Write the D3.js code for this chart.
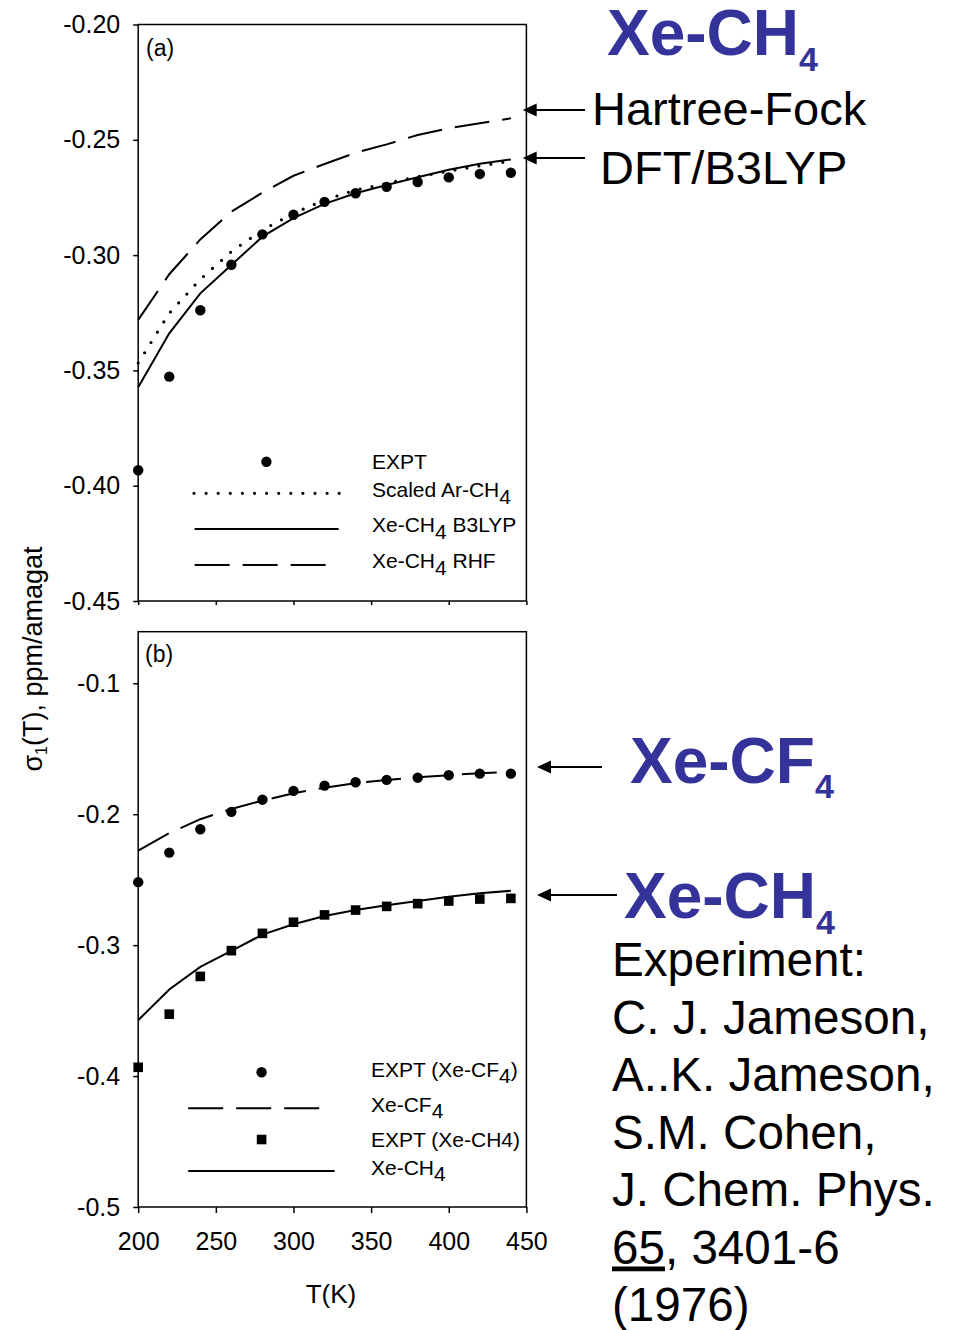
<!DOCTYPE html>
<html lang="en">
<head>
<meta charset="UTF-8">
<title>Xe-CH4 and Xe-CF4 second virial coefficient of shielding</title>
<script src="https://d3js.org/d3.v7.min.js"></script>
<style>
    body {
        margin: 0;
        background: white;
        font-family: "Liberation Sans", Arial, Helvetica, sans-serif;
    }

    svg {
        display: block;
    }
</style>
</head>
<body>
<svg id="vis"></svg>
<script>
    const width = 954;
    const height = 1330;

    // temperatures (K) for every series
    const temps = [200, 220, 240, 260, 280, 300, 320, 340, 360, 380, 400, 420, 440];

    // panel (a): Xe-CH4, ppm/amagat
    const exptCH4 = [-0.3933, -0.3527, -0.3239, -0.3042, -0.2910, -0.2825, -0.2769, -0.2732, -0.2704, -0.2683, -0.2663, -0.2648, -0.2643];
    const scaledArCH4 = [-0.3468, -0.3252, -0.3105, -0.2985, -0.2891, -0.2819, -0.2761, -0.2718, -0.2689, -0.2660, -0.2636, -0.2613, -0.2592];
    const b3lypCH4 = [-0.3573, -0.3339, -0.3166, -0.3043, -0.2920, -0.2840, -0.2778, -0.2732, -0.2696, -0.2662, -0.2630, -0.2604, -0.2585];
    const rhfCH4 = [-0.3281, -0.3083, -0.2932, -0.2812, -0.2729, -0.2656, -0.2605, -0.2556, -0.2520, -0.2479, -0.2450, -0.2428, -0.2407];

    // panel (b): Xe-CF4
    const exptCF4 = [-0.2519, -0.2293, -0.2115, -0.1982, -0.1889, -0.1822, -0.1782, -0.1756, -0.1738, -0.1721, -0.1702, -0.1690, -0.1690];
    const calcCF4 = [-0.2278, -0.2145, -0.2038, -0.1960, -0.1896, -0.1840, -0.1797, -0.1763, -0.1738, -0.1718, -0.1702, -0.1687, -0.1677];

    const ticksX = [200, 250, 300, 350, 400, 450];
    const ticksA = [-0.45, -0.40, -0.35, -0.30, -0.25, -0.20];
    const ticksB = [-0.5, -0.4, -0.3, -0.2, -0.1];

    const refLines = ["Experiment:", "C. J. Jameson,", "A..K. Jameson,", "S.M. Cohen,", "J. Chem. Phys."];

    const blue = "#333399";
    const svg = d3.select("#vis").attr("width", width).attr("height", height);

    const x = d3.scaleLinear().domain([200, 450]).range([138.2, 526.4]);
    const yA = d3.scaleLinear().domain([-0.45, -0.20]).range([601, 24.5]);
    const yB = d3.scaleLinear().domain([-0.5, -0.0606]).range([1207, 631.7]);

    function frame(y) {
        svg.append("rect")
            .attr("x", x(200)).attr("y", y.range()[1])
            .attr("width", x(450) - x(200))
            .attr("height", y.range()[0] - y.range()[1])
            .attr("fill", "none").attr("stroke", "black").attr("stroke-width", 1.5);
    }

    function axes(y, yTicks, fmt, showX) {
        const gy = svg.append("g")
            .attr("transform", `translate(${x(200)},0)`)
            .call(d3.axisLeft(y).tickValues(yTicks).tickFormat(fmt).tickSize(5).tickPadding(13));
        const gx = svg.append("g")
            .attr("transform", `translate(0,${y.range()[0]})`)
            .call(d3.axisBottom(x).tickValues(ticksX)
                .tickFormat(showX ? d => d : "")
                .tickSize(showX ? 6 : 4).tickPadding(19));
        [gy, gx].forEach(g => {
            g.select(".domain").remove();
            g.selectAll("line").attr("stroke", "black").attr("stroke-width", 1.5);
            g.selectAll("text").attr("fill", "black")
                .attr("font-size", 25)
                .attr("font-family", "Liberation Sans, Arial, sans-serif");
        });
    }

    const styles = {
        solid: { w: 2, dash: null, cap: "butt" },
        dashed: { w: 2, dash: "35,13", cap: "butt" },
        dotted: { w: 3.2, dash: "0,12.1", cap: "round" }
    };

    function series(y, values, kind) {
        const s = styles[kind];
        const line = d3.line().x((d, i) => x(temps[i])).y(d => y(d));
        svg.append("path")
            .attr("d", line(values))
            .attr("fill", "none").attr("stroke", "black")
            .attr("stroke-width", s.w)
            .attr("stroke-dasharray", s.dash)
            .attr("stroke-linecap", s.cap);
    }

    function markers(y, values, shape) {
        const g = svg.append("g");
        values.forEach((v, i) => drawMarker(g, x(temps[i]), y(v), shape));
    }

    function drawMarker(g, cx, cy, shape) {
        if (shape === "circle") {
            g.append("circle").attr("cx", cx).attr("cy", cy).attr("r", 5.2).attr("fill", "black");
        } else {
            g.append("rect").attr("x", cx - 4.8).attr("y", cy - 4.8)
                .attr("width", 9.6).attr("height", 9.6).attr("fill", "black");
        }
    }

    // text made of [string, isSubscript] parts
    function richText(px, py, parts, size, subShift, subSize, attrs) {
        const t = svg.append("text").attr("x", px).attr("y", py)
            .attr("font-size", size).attr("fill", "black");
        Object.entries(attrs || {}).forEach(([k, v]) => t.attr(k, v));
        let down = false;
        parts.forEach(([str, sub]) => {
            const ts = t.append("tspan").text(str);
            if (sub && !down) { ts.attr("dy", subShift); down = true; }
            else if (!sub && down) { ts.attr("dy", -subShift); down = false; }
            if (sub && subSize) ts.attr("font-size", subSize);
        });
        return t;
    }

    function legendLine(x1, x2, y, kind) {
        const s = styles[kind];
        svg.append("line")
            .attr("x1", x1).attr("x2", x2).attr("y1", y).attr("y2", y)
            .attr("stroke", "black").attr("stroke-width", s.w)
            .attr("stroke-dasharray", s.dash).attr("stroke-linecap", s.cap);
    }

    function arrow(xFrom, xTip, y) {
        svg.append("line").attr("x1", xFrom).attr("x2", xTip + 10).attr("y1", y).attr("y2", y)
            .attr("stroke", "black").attr("stroke-width", 2);
        svg.append("path")
            .attr("d", `M${xTip},${y} L${xTip + 14},${y - 6.5} L${xTip + 14},${y + 6.5} Z`)
            .attr("fill", "black");
    }

    // ---- panel (a)
    frame(yA);
    axes(yA, ticksA, d => d.toFixed(2), false);
    series(yA, rhfCH4, "dashed");
    series(yA, scaledArCH4, "dotted");
    series(yA, b3lypCH4, "solid");
    markers(yA, exptCH4, "circle");
    richText(146, 56, [["(a)", false]], 23, 0);

    const lf = 21;
    drawMarker(svg, 266.4, 461.7, "circle");
    richText(372, 469, [["EXPT", false]], lf, 7);
    legendLine(194, 339.5, 493.3, "dotted");
    richText(372, 497, [["Scaled Ar-CH", false], ["4", true]], lf, 7);
    legendLine(194.6, 338.6, 529, "solid");
    richText(372, 532, [["Xe-CH", false], ["4", true], [" B3LYP", false]], lf, 7);
    legendLine(194.6, 326, 565, "dashed");
    richText(372, 568, [["Xe-CH", false], ["4", true], [" RHF", false]], lf, 7);

    // ---- panel (b)
    frame(yB);
    axes(yB, ticksB, d => d.toFixed(1), true);
    series(yB, calcCF4, "dashed");
    series(yB, b3lypCH4, "solid");
    markers(yB, exptCF4, "circle");
    markers(yB, exptCH4, "square");
    richText(145, 662, [["(b)", false]], 23, 0);

    drawMarker(svg, 261.6, 1072.3, "circle");
    richText(371, 1076.7, [["EXPT (Xe-CF", false], ["4", true], [")", false]], lf, 6);
    legendLine(188.2, 321, 1108.3, "dashed");
    richText(371, 1111.7, [["Xe-CF", false], ["4", true]], lf, 6);
    drawMarker(svg, 261.6, 1139.5, "square");
    richText(371, 1147, [["EXPT (Xe-CH4)", false]], lf, 6);
    legendLine(188.2, 334.6, 1171, "solid");
    richText(371, 1175, [["Xe-CH", false], ["4", true]], lf, 6);

    // axis titles
    richText(0, 0, [["σ", false], ["1", true], ["(T), ppm/amagat", false]], 27, 5, 16,
        { transform: "translate(42,659) rotate(-90)", "text-anchor": "middle" });
    richText(331, 1303, [["T(K)", false]], 26, 0, null, { "text-anchor": "middle" });

    // ---- annotations on the right
    const bold = { "font-weight": "bold", fill: blue };
    richText(607, 55, [["Xe-CH", false], ["4", true]], 64, 16, 34, bold);
    richText(592, 125, [["Hartree-Fock", false]], 47, 0);
    richText(600, 184, [["DFT/B3LYP", false]], 47, 0);
    arrow(585, 522.7, 110);
    arrow(585, 522.7, 158);

    richText(630, 783, [["Xe-CF", false], ["4", true]], 64, 15, 34, bold);
    richText(624, 918, [["Xe-CH", false], ["4", true]], 64, 16, 34, bold);
    arrow(602, 537, 767);
    arrow(617, 537, 895);

    const rf = 47.6;
    const refBase = 976, refStep = 57.5;
    refLines.forEach((s, i) => richText(612, refBase + i * refStep, [[s, false]], rf, 0));
    const vol = richText(612, refBase + 5 * refStep, [], rf, 0);
    vol.append("tspan").attr("text-decoration", "underline").style("text-decoration", "underline").text("65");
    vol.append("tspan").text(", 3401-6");
    richText(612, refBase + 6 * refStep, [["(1976)", false]], rf, 0);
</script>
</body>
</html>
